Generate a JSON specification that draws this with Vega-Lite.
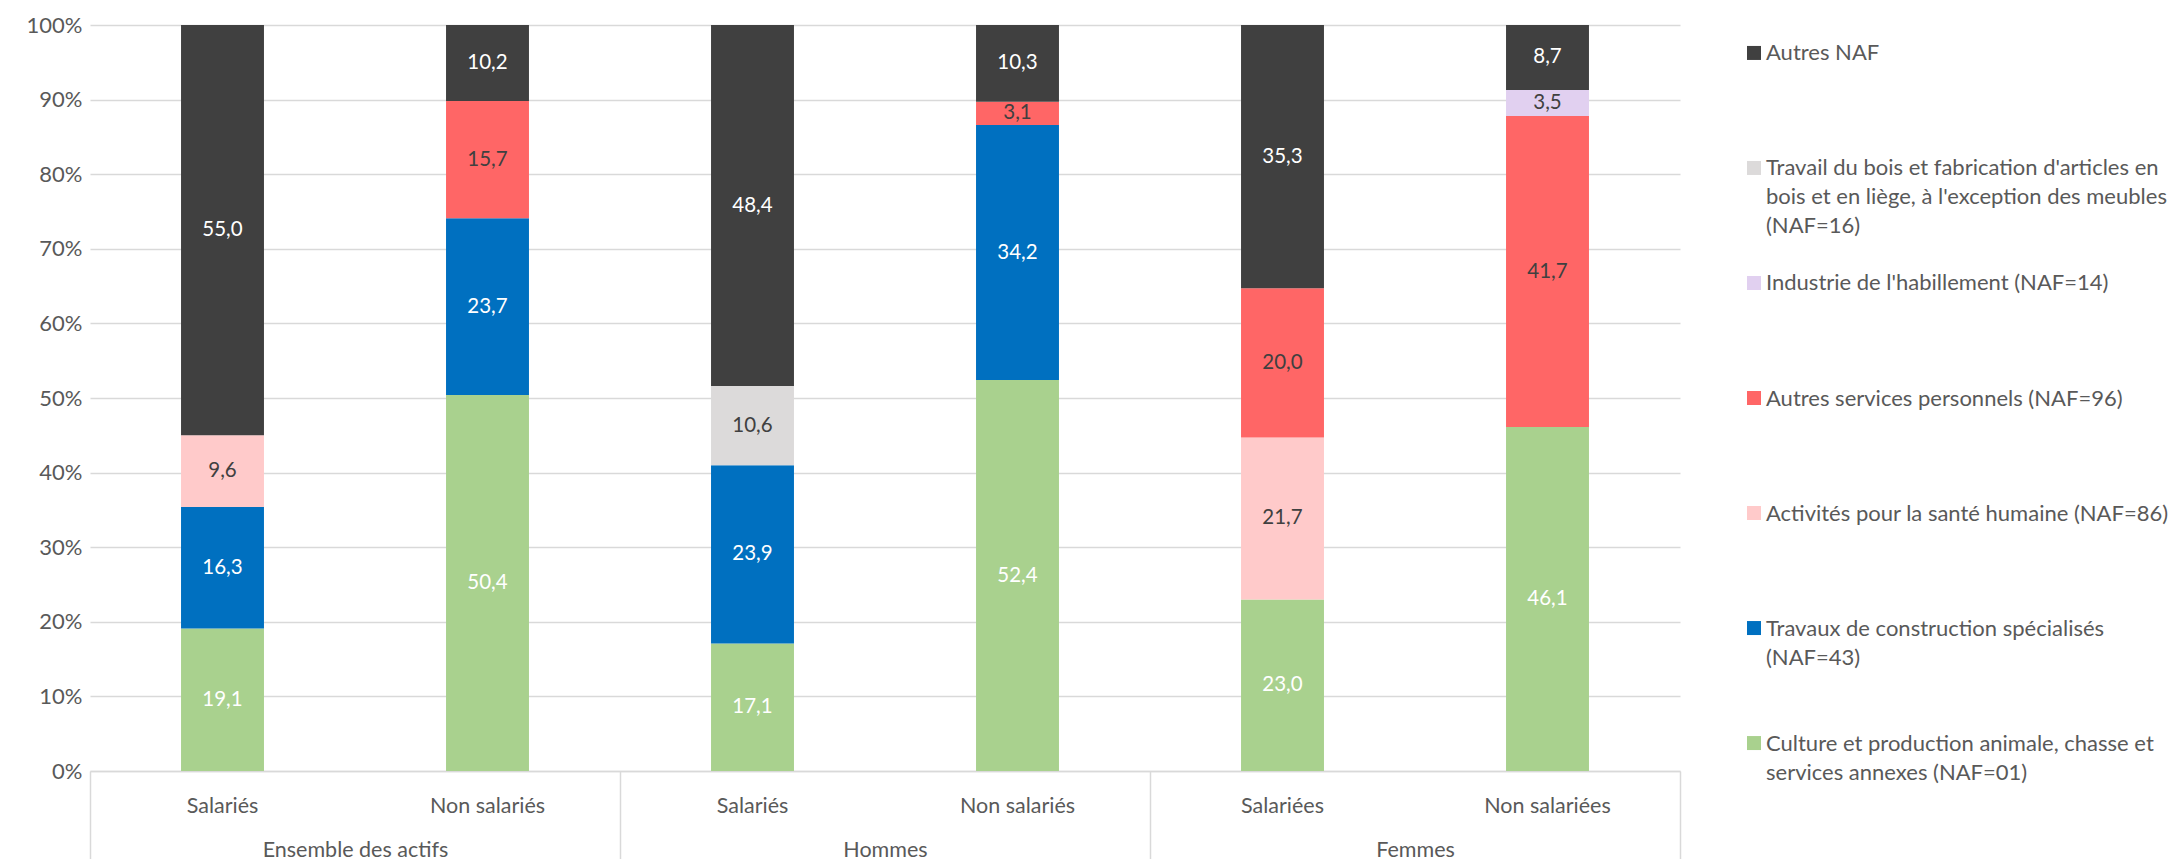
{
  "$schema": "https://vega.github.io/schema/vega-lite/v6.json",
  "padding": {"left": 26, "top": 14, "right": 0, "bottom": 0},
  "background": "white",
  "config": {
    "font": "Lato",
    "view": {"stroke": null},
    "concat": {"spacing": 66},
    "locale": {"number": {"decimal": ",", "thousands": " ", "grouping": [3], "currency": ["", " €"]}}
  },
  "datasets": {
    "parts": [
      {"groupe": "Ensemble des actifs", "cle": "Ensemble des actifs|Salariés", "categorie": "Culture et production animale, chasse et services annexes (NAF=01)", "rang": 1, "valeur": 19.1},
      {"groupe": "Ensemble des actifs", "cle": "Ensemble des actifs|Salariés", "categorie": "Travaux de construction spécialisés (NAF=43)", "rang": 2, "valeur": 16.3},
      {"groupe": "Ensemble des actifs", "cle": "Ensemble des actifs|Salariés", "categorie": "Activités pour la santé humaine (NAF=86)", "rang": 3, "valeur": 9.6},
      {"groupe": "Ensemble des actifs", "cle": "Ensemble des actifs|Salariés", "categorie": "Autres NAF", "rang": 7, "valeur": 55.0},
      {"groupe": "Ensemble des actifs", "cle": "Ensemble des actifs|Non salariés", "categorie": "Culture et production animale, chasse et services annexes (NAF=01)", "rang": 1, "valeur": 50.4},
      {"groupe": "Ensemble des actifs", "cle": "Ensemble des actifs|Non salariés", "categorie": "Travaux de construction spécialisés (NAF=43)", "rang": 2, "valeur": 23.7},
      {"groupe": "Ensemble des actifs", "cle": "Ensemble des actifs|Non salariés", "categorie": "Autres services personnels (NAF=96)", "rang": 4, "valeur": 15.7},
      {"groupe": "Ensemble des actifs", "cle": "Ensemble des actifs|Non salariés", "categorie": "Autres NAF", "rang": 7, "valeur": 10.2},
      {"groupe": "Hommes", "cle": "Hommes|Salariés", "categorie": "Culture et production animale, chasse et services annexes (NAF=01)", "rang": 1, "valeur": 17.1},
      {"groupe": "Hommes", "cle": "Hommes|Salariés", "categorie": "Travaux de construction spécialisés (NAF=43)", "rang": 2, "valeur": 23.9},
      {"groupe": "Hommes", "cle": "Hommes|Salariés", "categorie": "Travail du bois et fabrication d'articles en bois et en liège, à l'exception des meubles (NAF=16)", "rang": 6, "valeur": 10.6},
      {"groupe": "Hommes", "cle": "Hommes|Salariés", "categorie": "Autres NAF", "rang": 7, "valeur": 48.4},
      {"groupe": "Hommes", "cle": "Hommes|Non salariés", "categorie": "Culture et production animale, chasse et services annexes (NAF=01)", "rang": 1, "valeur": 52.4},
      {"groupe": "Hommes", "cle": "Hommes|Non salariés", "categorie": "Travaux de construction spécialisés (NAF=43)", "rang": 2, "valeur": 34.2},
      {"groupe": "Hommes", "cle": "Hommes|Non salariés", "categorie": "Autres services personnels (NAF=96)", "rang": 4, "valeur": 3.1},
      {"groupe": "Hommes", "cle": "Hommes|Non salariés", "categorie": "Autres NAF", "rang": 7, "valeur": 10.3},
      {"groupe": "Femmes", "cle": "Femmes|Salariées", "categorie": "Culture et production animale, chasse et services annexes (NAF=01)", "rang": 1, "valeur": 23.0},
      {"groupe": "Femmes", "cle": "Femmes|Salariées", "categorie": "Activités pour la santé humaine (NAF=86)", "rang": 3, "valeur": 21.7},
      {"groupe": "Femmes", "cle": "Femmes|Salariées", "categorie": "Autres services personnels (NAF=96)", "rang": 4, "valeur": 20.0},
      {"groupe": "Femmes", "cle": "Femmes|Salariées", "categorie": "Autres NAF", "rang": 7, "valeur": 35.3},
      {"groupe": "Femmes", "cle": "Femmes|Non salariées", "categorie": "Culture et production animale, chasse et services annexes (NAF=01)", "rang": 1, "valeur": 46.1},
      {"groupe": "Femmes", "cle": "Femmes|Non salariées", "categorie": "Autres services personnels (NAF=96)", "rang": 4, "valeur": 41.7},
      {"groupe": "Femmes", "cle": "Femmes|Non salariées", "categorie": "Industrie de l'habillement (NAF=14)", "rang": 5, "valeur": 3.5},
      {"groupe": "Femmes", "cle": "Femmes|Non salariées", "categorie": "Autres NAF", "rang": 7, "valeur": 8.7}
    ],
    "legende": [
      {"categorie": "Autres NAF", "libelle": "Autres NAF"},
      {"categorie": "Travail du bois et fabrication d'articles en bois et en liège, à l'exception des meubles (NAF=16)", "libelle": "Travail du bois et fabrication d'articles en\nbois et en liège, à l'exception des meubles\n(NAF=16)"},
      {"categorie": "Industrie de l'habillement (NAF=14)", "libelle": "Industrie de l'habillement (NAF=14)"},
      {"categorie": "Autres services personnels (NAF=96)", "libelle": "Autres services personnels (NAF=96)"},
      {"categorie": "Activités pour la santé humaine (NAF=86)", "libelle": "Activités pour la santé humaine (NAF=86)"},
      {"categorie": "Travaux de construction spécialisés (NAF=43)", "libelle": "Travaux de construction spécialisés\n(NAF=43)"},
      {"categorie": "Culture et production animale, chasse et services annexes (NAF=01)", "libelle": "Culture et production animale, chasse et\nservices annexes (NAF=01)"}
    ]
  },
  "hconcat": [
    {
      "width": 1590,
      "height": 746,
      "data": {"name": "parts"},
      "layer": [
        {
          "encoding": {
            "x": {"field": "cle", "type": "nominal", "sort": null,
              "scale": {"type": "band", "paddingInner": 0.687, "paddingOuter": 0.3435},
              "axis": {"title": null, "orient": "bottom", "labelExpr": "split(datum.label, '|')[1]", "labelAngle": 0, "labelLimit": 0, "domain": false, "ticks": false, "labelPadding": 24, "labelFontSize": 21.5, "labelColor": "#595959"}}
          },
          "layer": [
            {
              "mark": {"type": "bar"},
              "encoding": {
                "y": {"field": "valeur", "type": "quantitative", "stack": "normalize",
                  "scale": {"domain": [0, 1]},
                  "axis": {"title": null, "values": [0, 0.1, 0.2, 0.3, 0.4, 0.5, 0.6, 0.7, 0.8, 0.9, 1], "format": ".0%", "domain": false, "ticks": false, "grid": true, "gridColor": "#D9D9D9", "gridWidth": 1.5, "labelPadding": 8, "labelFontSize": 22, "labelColor": "#595959"}},
                "color": {"field": "categorie", "type": "nominal",
                  "scale": {
                    "domain": ["Culture et production animale, chasse et services annexes (NAF=01)", "Travaux de construction spécialisés (NAF=43)", "Activités pour la santé humaine (NAF=86)", "Autres services personnels (NAF=96)", "Industrie de l'habillement (NAF=14)", "Travail du bois et fabrication d'articles en bois et en liège, à l'exception des meubles (NAF=16)", "Autres NAF"],
                    "range": ["#A9D18E", "#0070C0", "#FFCACA", "#FF6666", "#E1D0F0", "#DCDADA", "#404040"]},
                  "legend": null},
                "order": {"field": "rang", "type": "quantitative"}
              }
            },
            {
              "mark": {"type": "text", "fontSize": 20.5},
              "encoding": {
                "y": {"field": "valeur", "type": "quantitative", "stack": "normalize", "bandPosition": 0.5},
                "detail": {"field": "categorie", "type": "nominal"},
                "order": {"field": "rang", "type": "quantitative"},
                "text": {"field": "valeur", "type": "quantitative", "format": ".1f"},
                "color": {"condition": {"test": "datum.rang == 1 || datum.rang == 2 || datum.rang == 7", "value": "#FFFFFF"}, "value": "#404040"}
              }
            }
          ]
        },
        {
          "mark": {"type": "bar", "opacity": 0},
          "encoding": {
            "x": {"field": "groupe", "type": "nominal", "sort": null,
              "scale": {"paddingInner": 0, "paddingOuter": 0},
              "axis": {"title": null, "orient": "bottom", "offset": 0, "labelAngle": 0, "labelLimit": 0, "tickBand": "extent", "tickSize": 89, "tickColor": "#D9D9D9", "tickWidth": 1.5, "domainColor": "#D9D9D9", "domainWidth": 1.5, "labelPadding": -21, "labelFontSize": 21.5, "labelColor": "#595959"}}
          }
        }
      ],
      "resolve": {"scale": {"x": "independent"}, "axis": {"x": "independent"}}
    },
    {
      "width": 420,
      "height": 746,
      "data": {"name": "legende"},
      "encoding": {
        "y": {"field": "categorie", "type": "nominal", "sort": null, "scale": {"type": "point", "padding": 0.243}, "axis": null}
      },
      "layer": [
        {
          "mark": {"type": "point", "shape": "square", "filled": true, "opacity": 1, "size": 196, "strokeWidth": 0},
          "encoding": {
            "x": {"value": 7},
            "color": {"field": "categorie", "type": "nominal",
              "scale": {
                "domain": ["Culture et production animale, chasse et services annexes (NAF=01)", "Travaux de construction spécialisés (NAF=43)", "Activités pour la santé humaine (NAF=86)", "Autres services personnels (NAF=96)", "Industrie de l'habillement (NAF=14)", "Travail du bois et fabrication d'articles en bois et en liège, à l'exception des meubles (NAF=16)", "Autres NAF"],
                "range": ["#A9D18E", "#0070C0", "#FFCACA", "#FF6666", "#E1D0F0", "#DCDADA", "#404040"]},
              "legend": null}
          }
        },
        {
          "mark": {"type": "text", "align": "left", "baseline": "alphabetic", "dy": 7.5, "fontSize": 22, "lineBreak": "\n", "lineHeight": 29, "color": "#595959"},
          "encoding": {
            "x": {"value": 19},
            "text": {"field": "libelle", "type": "nominal"}
          }
        }
      ]
    }
  ]
}
